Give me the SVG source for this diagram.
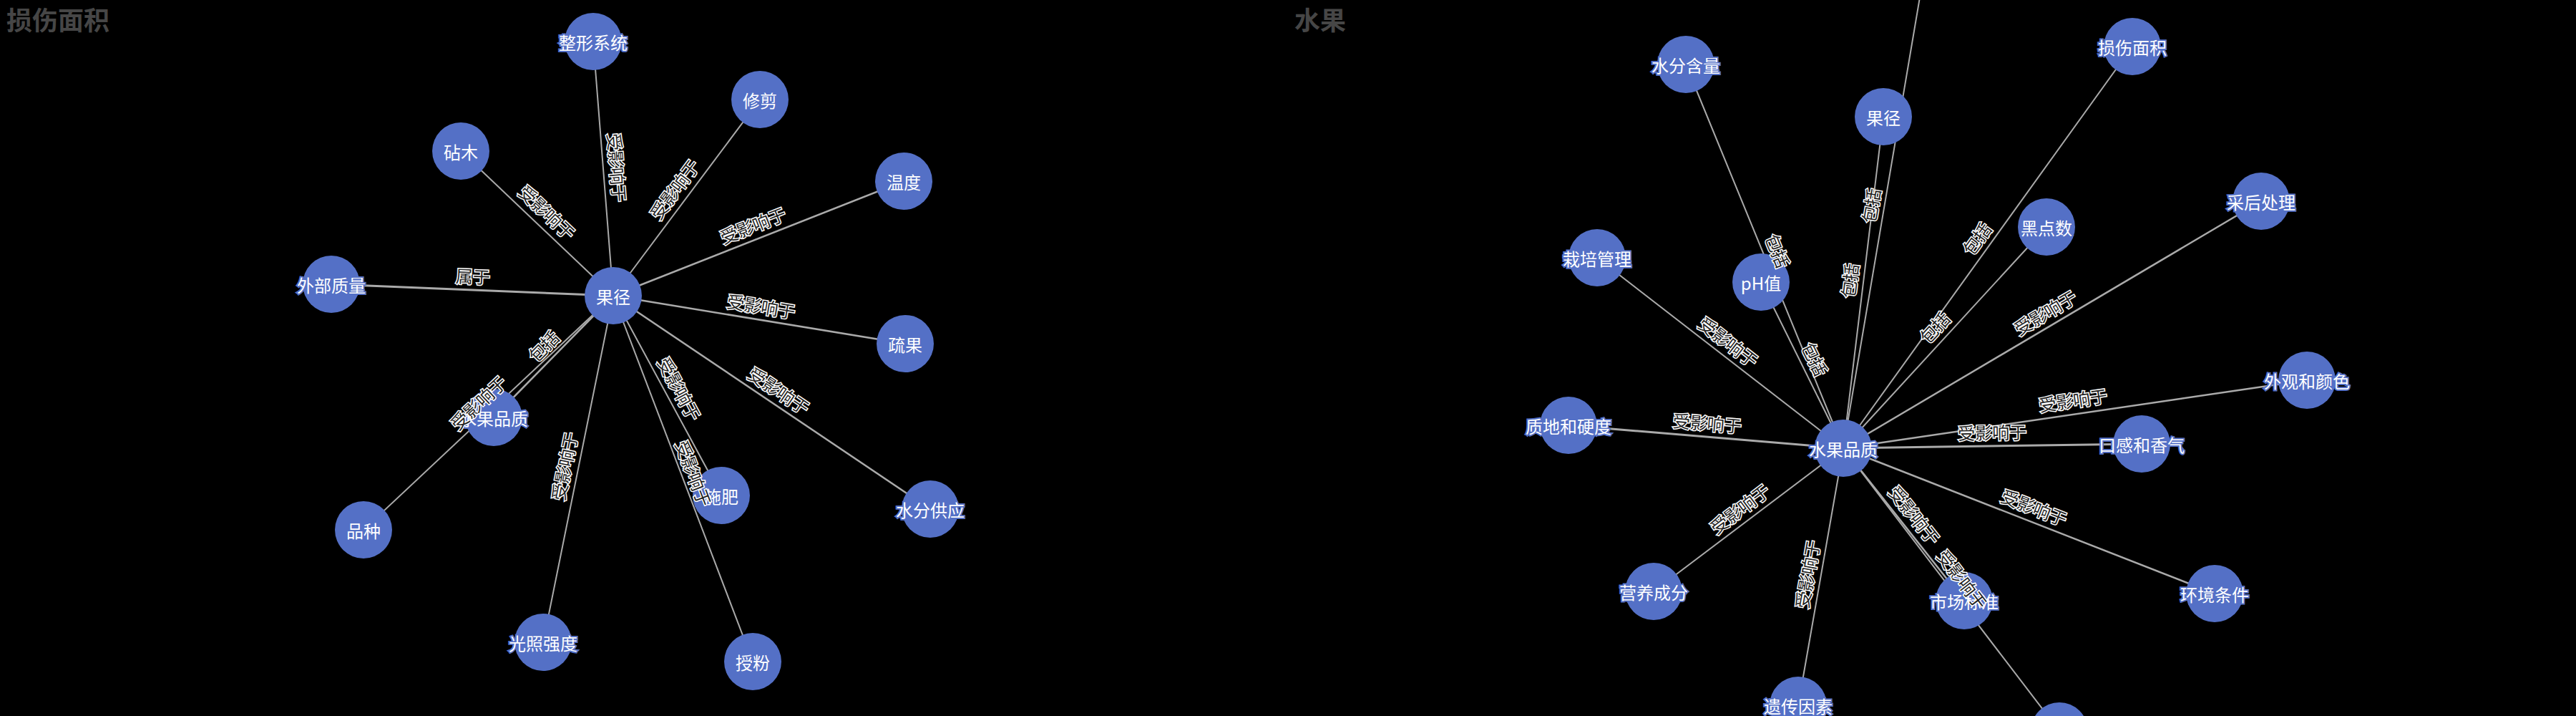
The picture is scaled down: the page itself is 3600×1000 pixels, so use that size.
<svg xmlns="http://www.w3.org/2000/svg" width="3600" height="1000" viewBox="0 0 3600 1000">
<style>
.bg{fill:#000}
.title{font-family:"Noto Sans CJK SC","Noto Sans",sans-serif;font-size:36px;font-weight:bold;fill:#464646}
.edge{stroke:#aaa;stroke-width:2;fill:none}
.w3{stroke-width:3}
.w25{stroke-width:2.5}
.node{fill:#5470c6}
.nl{font-family:"Noto Sans CJK SC","Noto Sans",sans-serif;font-size:24px;fill:#fff;stroke:#5470c6;stroke-width:4;paint-order:stroke;text-anchor:middle;dominant-baseline:central}
.el{font-family:"Noto Sans CJK SC","Noto Sans",sans-serif;font-size:24px;fill:#222;stroke:#fff;stroke-width:3;paint-order:stroke;text-anchor:middle;dominant-baseline:central}
</style>
<rect class="bg" x="0" y="0" width="3600" height="1000"/>
<text class="title" x="9" y="42">损伤面积</text>
<text class="title" x="1809" y="42">水果</text>

<g id="connectors">
  <line class="edge" x1="857" y1="413" x2="829" y2="58"/>
  <line class="edge" x1="857" y1="413" x2="644" y2="211"/>
  <line class="edge w3" x1="857" y1="413" x2="463" y2="397"/>
  <line class="edge" x1="857" y1="413" x2="1062" y2="139"/>
  <line class="edge w25" x1="857" y1="413" x2="1263" y2="253"/>
  <line class="edge w25" x1="857" y1="413" x2="1265" y2="480"/>
  <line class="edge w25" x1="857" y1="413" x2="1300" y2="711"/>
  <line class="edge" x1="857" y1="413" x2="1008" y2="692"/>
  <line class="edge" x1="857" y1="413" x2="1052" y2="924"/>
  <line class="edge" x1="857" y1="413" x2="759" y2="897"/>
  <line class="edge w25" x1="857" y1="413" x2="690" y2="583"/>
  <line class="edge" x1="857" y1="413" x2="508" y2="740"/>

  <line class="edge" x1="2576" y1="626" x2="2356" y2="90"/>
  <line class="edge" x1="2576" y1="626" x2="2632" y2="163"/>
  <line class="edge" x1="2576" y1="626" x2="2690" y2="-45"/>
  <line class="edge" x1="2576" y1="626" x2="2232" y2="360"/>
  <line class="edge" x1="2576" y1="626" x2="2461" y2="394"/>
  <line class="edge" x1="2576" y1="626" x2="2980" y2="65"/>
  <line class="edge" x1="2576" y1="626" x2="2860" y2="317"/>
  <line class="edge w25" x1="2576" y1="626" x2="3160" y2="281"/>
  <line class="edge w25" x1="2576" y1="626" x2="3224" y2="531"/>
  <line class="edge w3" x1="2576" y1="626" x2="2993" y2="620"/>
  <line class="edge w25" x1="2576" y1="626" x2="3095" y2="829"/>
  <line class="edge w25" x1="2576" y1="626" x2="2745" y2="839"/>
  <line class="edge" x1="2576" y1="626" x2="2878" y2="1021"/>
  <line class="edge w3" x1="2576" y1="626" x2="2192" y2="594"/>
  <line class="edge" x1="2576" y1="626" x2="2311" y2="826"/>
  <line class="edge" x1="2576" y1="626" x2="2513" y2="985"/>
</g>

<g id="n-guojing-l"><circle class="node" cx="857" cy="413" r="40"/><text class="nl" x="857" y="413">果径</text></g>
<g id="n-zhengxing"><circle class="node" cx="829" cy="58" r="40"/><text class="nl" x="829" y="58">整形系统</text></g>
<g id="n-zhenmu"><circle class="node" cx="644" cy="211" r="40"/><text class="nl" x="644" y="211">砧木</text></g>
<g id="n-waibu"><circle class="node" cx="463" cy="397" r="40"/><text class="nl" x="463" y="397">外部质量</text></g>
<g id="n-xiujian"><circle class="node" cx="1062" cy="139" r="40"/><text class="nl" x="1062" y="139">修剪</text></g>
<g id="n-wendu"><circle class="node" cx="1263" cy="253" r="40"/><text class="nl" x="1263" y="253">温度</text></g>
<g id="n-shuguo"><circle class="node" cx="1265" cy="480" r="40"/><text class="nl" x="1265" y="480">疏果</text></g>
<g id="n-shuifengongying"><circle class="node" cx="1300" cy="711" r="40"/><text class="nl" x="1300" y="711">水分供应</text></g>
<g id="n-shifei"><circle class="node" cx="1008" cy="692" r="40"/><text class="nl" x="1008" y="692">施肥</text></g>
<g id="n-shoufen"><circle class="node" cx="1052" cy="924" r="40"/><text class="nl" x="1052" y="924">授粉</text></g>
<g id="n-guangzhao"><circle class="node" cx="759" cy="897" r="40"/><text class="nl" x="759" y="897">光照强度</text></g>
<g id="n-pinzhi-l"><circle class="node" cx="690" cy="583" r="40"/><text class="nl" x="690" y="583">水果品质</text></g>
<g id="n-pinzhong"><circle class="node" cx="508" cy="740" r="40"/><text class="nl" x="508" y="740">品种</text></g>

<g id="n-pinzhi-r"><circle class="node" cx="2576" cy="626" r="40"/><text class="nl" x="2576" y="626">水果品质</text></g>
<g id="n-shuifenhanliang"><circle class="node" cx="2356" cy="90" r="40"/><text class="nl" x="2356" y="90">水分含量</text></g>
<g id="n-guojing-r"><circle class="node" cx="2632" cy="163" r="40"/><text class="nl" x="2632" y="163">果径</text></g>
<g id="n-zaipei"><circle class="node" cx="2232" cy="360" r="40"/><text class="nl" x="2232" y="360">栽培管理</text></g>
<g id="n-ph"><circle class="node" cx="2461" cy="394" r="40"/><text class="nl" x="2461" y="394">pH值</text></g>
<g id="n-sunshang"><circle class="node" cx="2980" cy="65" r="40"/><text class="nl" x="2980" y="65">损伤面积</text></g>
<g id="n-heidian"><circle class="node" cx="2860" cy="317" r="40"/><text class="nl" x="2860" y="317">黑点数</text></g>
<g id="n-caihou"><circle class="node" cx="3160" cy="281" r="40"/><text class="nl" x="3160" y="281">采后处理</text></g>
<g id="n-waiguan"><circle class="node" cx="3224" cy="531" r="40"/><text class="nl" x="3224" y="531">外观和颜色</text></g>
<g id="n-kougan"><circle class="node" cx="2993" cy="620" r="40"/><text class="nl" x="2993" y="620">口感和香气</text></g>
<g id="n-huanjing"><circle class="node" cx="3095" cy="829" r="40"/><text class="nl" x="3095" y="829">环境条件</text></g>
<g id="n-shichang"><circle class="node" cx="2745" cy="839" r="40"/><text class="nl" x="2745" y="839">市场标准</text></g>
<g id="n-bottom"><circle class="node" cx="2878" cy="1021" r="40"/></g>
<g id="n-zhidi"><circle class="node" cx="2192" cy="594" r="40"/><text class="nl" x="2192" y="594">质地和硬度</text></g>
<g id="n-yingyang"><circle class="node" cx="2311" cy="826" r="40"/><text class="nl" x="2311" y="826">营养成分</text></g>
<g id="n-yichuan"><circle class="node" cx="2513" cy="985" r="40"/><text class="nl" x="2513" y="985">遗传因素</text></g>

<g id="edge-labels">
  <text class="el" transform="translate(863,234) rotate(85.5)">受影响于</text>
  <text class="el" transform="translate(765,296) rotate(43.5)">受影响于</text>
  <text class="el" transform="translate(661,385) rotate(2.3)">属于</text>
  <text class="el" transform="translate(942,264) rotate(-53.2)">受影响于</text>
  <text class="el" transform="translate(1052,314) rotate(-21.5)">受影响于</text>
  <text class="el" transform="translate(1064,427) rotate(9.3)">受影响于</text>
  <text class="el" transform="translate(1089,545) rotate(33.9)">受影响于</text>
  <text class="el" transform="translate(950,543) rotate(61.6)">受影响于</text>
  <text class="el" transform="translate(970,661) rotate(69.1)">受影响于</text>
  <text class="el" transform="translate(788,651) rotate(-78.6)">受影响于</text>
  <text class="el" transform="translate(759,483) rotate(-45.5)">包括</text>
  <text class="el" transform="translate(668,562) rotate(-43.1)">受影响于</text>

  <text class="el" transform="translate(2485,350) rotate(67.7)">包括</text>
  <text class="el" transform="translate(2584,392) rotate(-83.1)">包括</text>
  <text class="el" transform="translate(2614,287) rotate(-80.4)">包括</text>
  <text class="el" transform="translate(2416,477) rotate(37.7)">受影响于</text>
  <text class="el" transform="translate(2537,501) rotate(63.6)">包括</text>
  <text class="el" transform="translate(2762,333) rotate(-54.2)">包括</text>
  <text class="el" transform="translate(2703,457) rotate(-47.4)">包括</text>
  <text class="el" transform="translate(2858,436) rotate(-30.6)">受影响于</text>
  <text class="el" transform="translate(2897,558) rotate(-8.3)">受影响于</text>
  <text class="el" transform="translate(2784,603) rotate(-0.8)">受影响于</text>
  <text class="el" transform="translate(2843,708) rotate(21.4)">受影响于</text>
  <text class="el" transform="translate(2676,719) rotate(51.6)">受影响于</text>
  <text class="el" transform="translate(2743,809) rotate(52.6)">受影响于</text>
  <text class="el" transform="translate(2386,590) rotate(4.8)">受影响于</text>
  <text class="el" transform="translate(2431,710) rotate(-37)">受影响于</text>
  <text class="el" transform="translate(2525,802) rotate(-80)">受影响于</text>
</g>
</svg>
